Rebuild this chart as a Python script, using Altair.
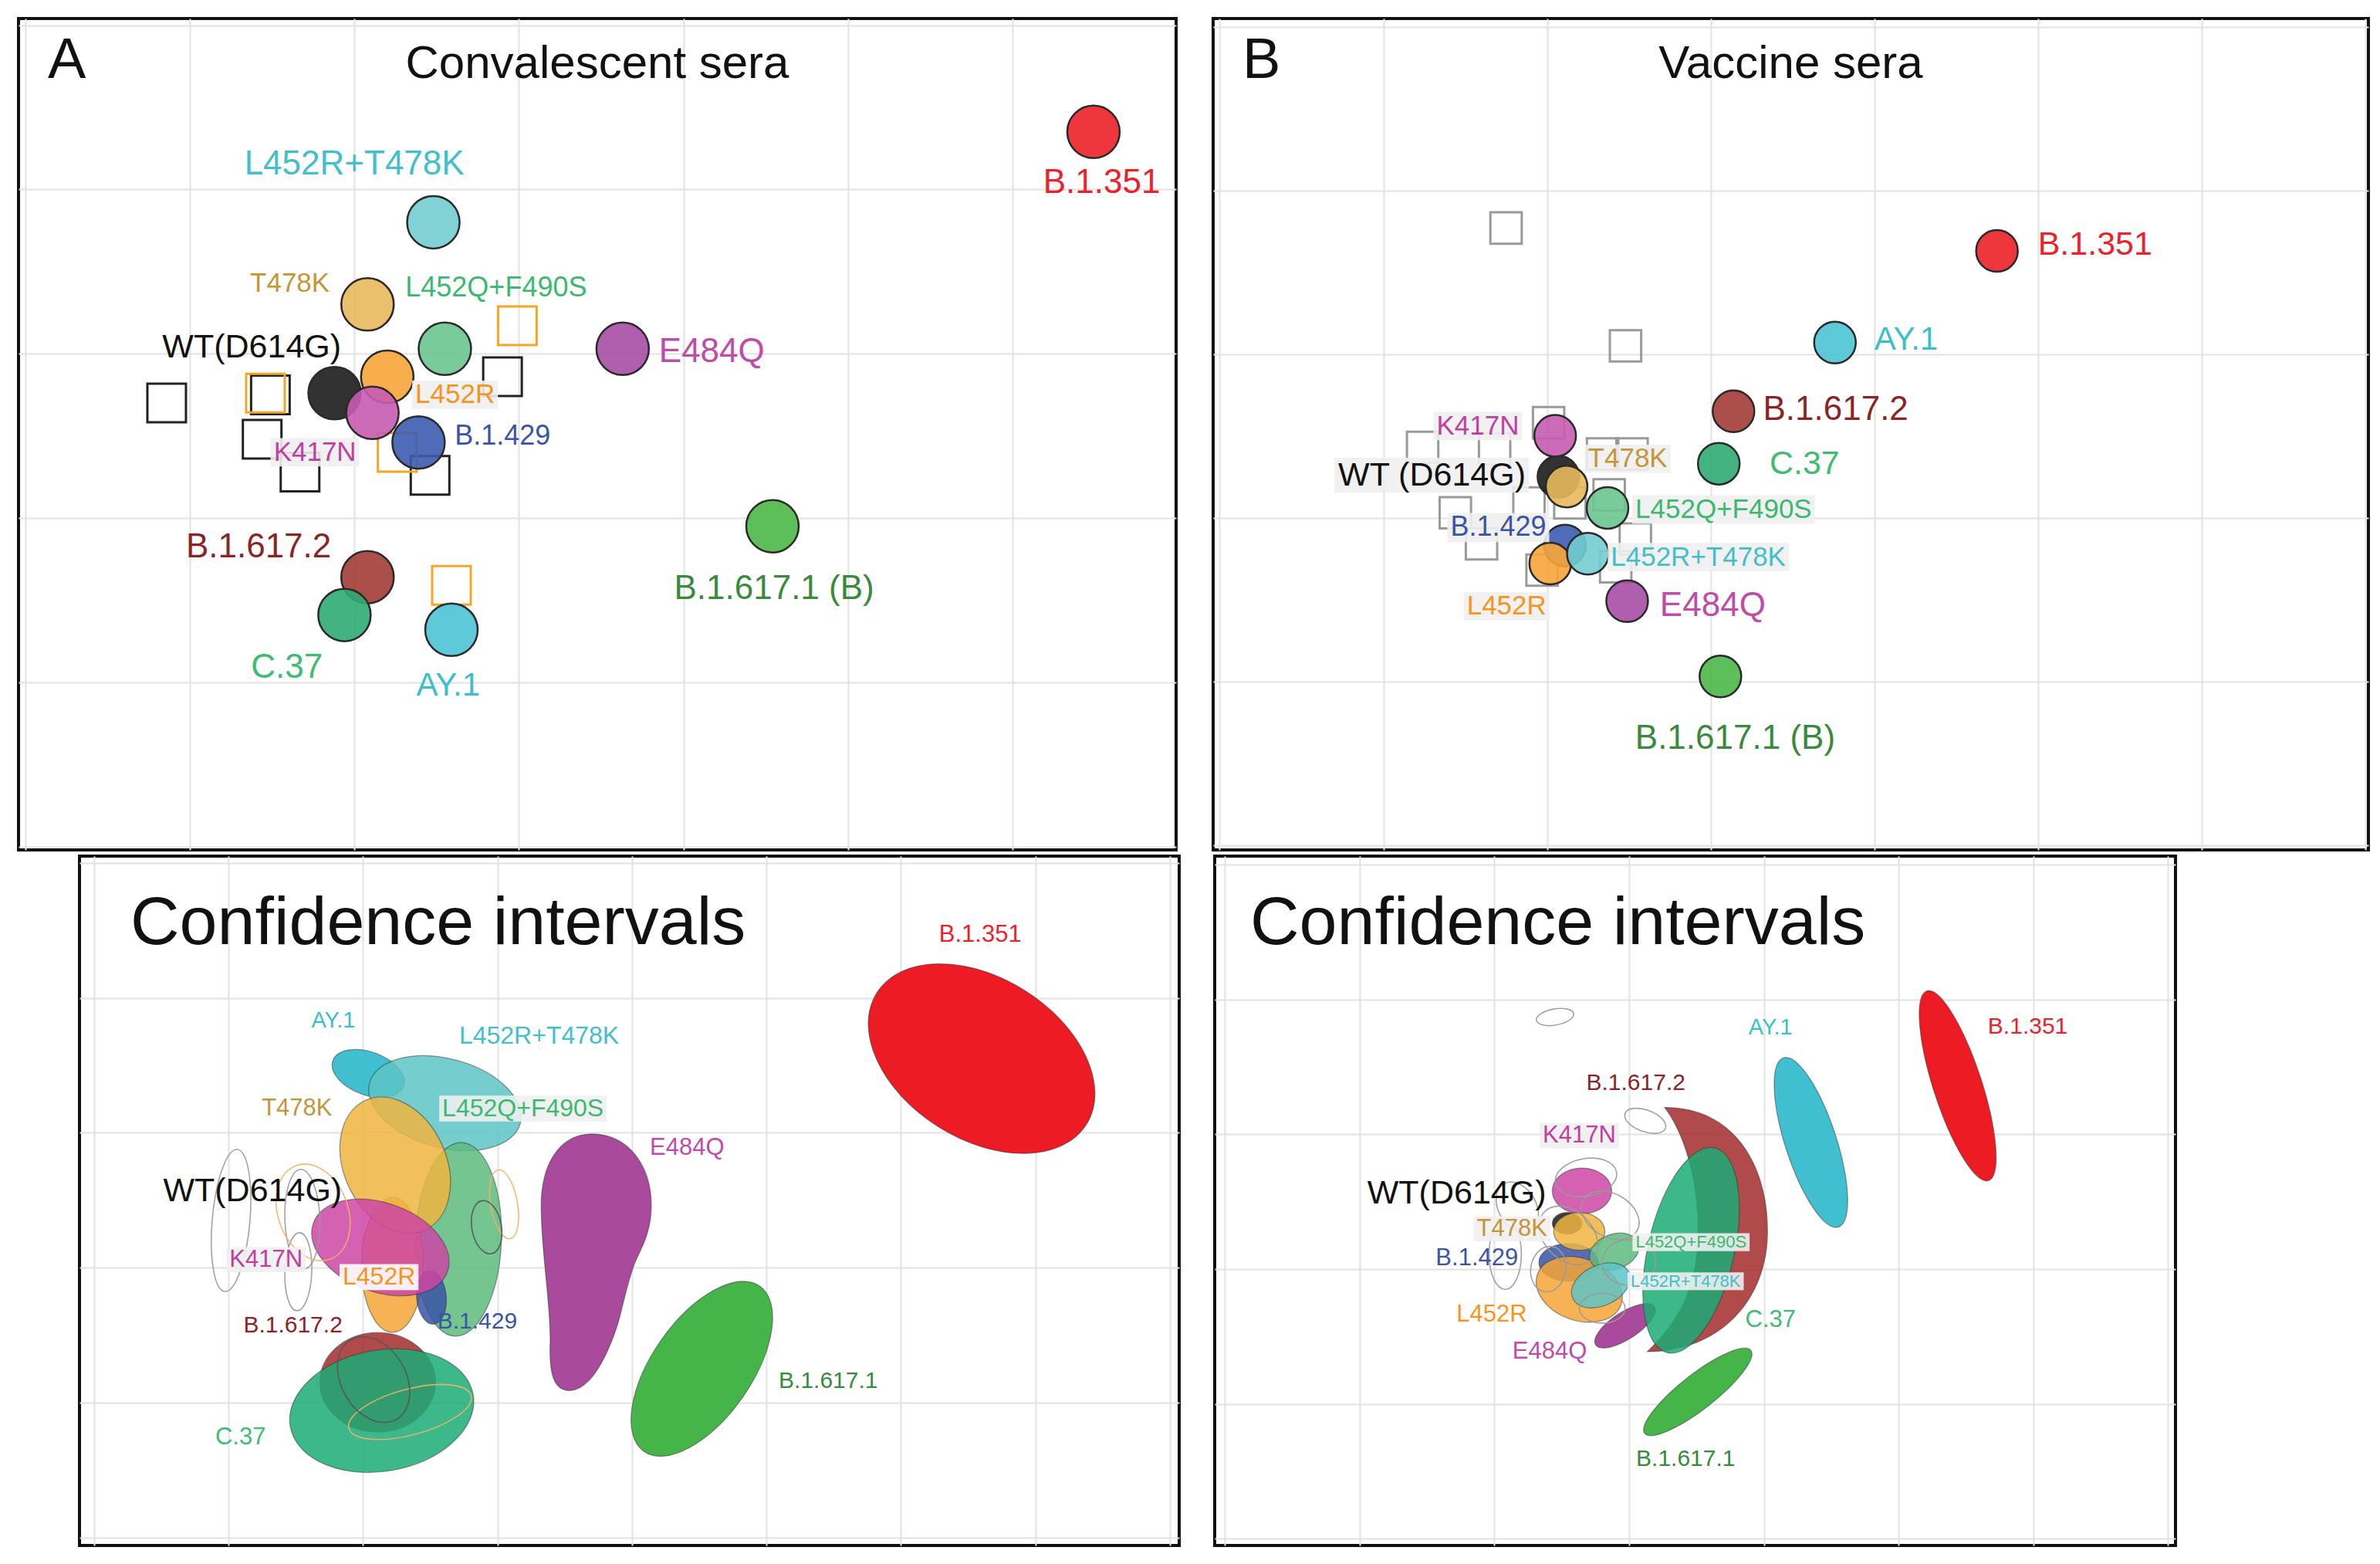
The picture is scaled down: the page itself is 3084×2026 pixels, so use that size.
import altair as alt
import pandas as pd

FONT = "Liberation Sans"

# ============================ DATA ============================
# ---- Panel A: convalescent sera antigenic map (grid units) ----
conv_ag = ["B.1.617.2", "C.37", "AY.1", "B.1.617.1", "E484Q", "L452R+T478K",
           "T478K", "L452Q+F490S", "WT", "L452R", "K417N", "B.1.429", "B.1.351"]
conv_ag_x = [2.08, 1.94, 2.59, 4.54, 3.63, 2.48, 2.08, 2.55, 1.88, 2.20, 2.11, 2.39, 6.49]
conv_ag_y = [1.64, 1.41, 1.32, 1.95, 3.03, 3.80, 3.30, 3.03, 2.76, 2.86, 2.64, 2.46, 4.35]

conv_sr_x = [0.86, 1.49, 1.44, 1.67, 2.46, 2.90, 1.46, 2.26, 2.99, 2.59]
conv_sr_y = [2.70, 2.75, 2.48, 2.28, 2.26, 2.86, 2.76, 2.40, 3.17, 1.59]
conv_sr_grp = ["a", "a", "a", "a", "a", "a", "b", "b", "b", "b"]

conv_lab = ["B.1.351", "L452R+T478K", "B.1.617.1 (B)", "C.37", "AY.1", "T478K",
            "WT(D614G)", "B.1.617.2", "L452Q+F490S", "E484Q", "L452R", "B.1.429", "K417N"]
conv_lab_key = ["B.1.351", "L452R+T478K", "B.1.617.1", "C.37", "AY.1", "T478K",
                "WT", "B.1.617.2", "L452Q+F490S", "E484Q", "L452R", "B.1.429", "K417N"]
conv_lab_x = [6.54, 2.00, 4.55, 1.59, 2.57, 1.85, 1.92, 1.86, 2.31, 3.85, 2.37, 2.61, 1.51]
conv_lab_y = [4.04, 4.15, 1.57, 1.09, 0.98, 3.43, 3.04, 1.82, 3.40, 3.01, 2.75, 2.50, 2.40]
conv_lab_al = ["center", "center", "center", "center", "center", "right",
               "right", "right", "left", "left", "left", "left", "left"]
conv_lab_fs = [44, 44, 44, 44, 42, 35, 43, 44, 36, 44, 35, 36, 35]
conv_lab_box = [0, 0, 0, 0, 0, 0, 0, 0, 0, 0, 1, 0, 1]

# ---- Panel B: vaccine sera antigenic map ----
vacc_ag = ["B.1.617.1", "E484Q", "B.1.429", "L452R", "L452R+T478K", "L452Q+F490S",
           "WT", "T478K", "K417N", "C.37", "B.1.617.2", "AY.1", "B.1.351"]
vacc_ag_x = [3.06, 2.49, 2.11, 2.02, 2.25, 2.37, 2.07, 2.12, 2.05, 3.05, 3.14, 3.76, 4.75]
vacc_ag_y = [1.03, 1.49, 1.83, 1.72, 1.78, 2.06, 2.25, 2.19, 2.50, 2.33, 2.65, 3.07, 3.63]

vacc_sr_x = [1.75, 2.48, 1.24, 1.44, 1.60, 2.01, 2.34, 2.52, 2.54, 1.97, 2.42, 1.89, 2.14, 1.68, 2.38]
vacc_sr_y = [3.77, 3.05, 2.43, 2.03, 1.84, 2.58, 2.39, 2.39, 1.87, 1.68, 1.70, 2.09, 2.09, 2.42, 2.14]

vacc_lab = ["B.1.351", "AY.1", "B.1.617.2", "C.37", "T478K", "L452Q+F490S", "B.1.429",
            "L452R+T478K", "L452R", "E484Q", "K417N", "WT (D614G)", "B.1.617.1 (B)"]
vacc_lab_key = ["B.1.351", "AY.1", "B.1.617.2", "C.37", "T478K", "L452Q+F490S", "B.1.429",
                "L452R+T478K", "L452R", "E484Q", "K417N", "WT", "B.1.617.1"]
vacc_lab_x = [5.00, 4.00, 3.32, 3.36, 2.25, 2.54, 1.41, 2.39, 1.51, 2.69, 1.83, 1.87, 3.15]
vacc_lab_y = [3.67, 3.09, 2.66, 2.33, 2.36, 2.05, 1.94, 1.76, 1.46, 1.46, 2.56, 2.26, 0.65]
vacc_lab_al = ["left"] * 10 + ["right", "right", "center"]
vacc_lab_fs = [43, 42, 44, 43, 35, 35, 36, 35, 35, 44, 35, 43, 44]
vacc_lab_box = [0, 0, 0, 0, 1, 1, 1, 1, 1, 0, 1, 1, 0]

# ---- Confidence regions, convalescent (centre, semi-axes in grid units, tilt deg) ----
ci_a_key = ["B.1.617.2", "C.37", "AY.1", "L452R+T478K", "L452Q+F490S", "L452R", "B.1.429",
            "T478K", "K417N", "E484Q", "B.1.617.1", "B.1.351"]
ci_a_shape = ["ellipse"] * 9 + ["pear", "ellipse", "ellipse"]
ci_a_x = [2.11, 2.14, 2.04, 2.61, 2.71, 2.22, 2.51, 2.24, 2.13, 3.73, 4.52, 6.60]
ci_a_y = [1.15, 0.94, 3.44, 3.22, 2.21, 2.02, 1.78, 2.76, 2.15, 2.04, 1.25, 3.55]
ci_a_ra = [0.43, 0.69, 0.28, 0.58, 0.72, 0.50, 0.20, 0.53, 0.53, 0.963, 0.75, 0.92]
ci_a_rb = [0.37, 0.45, 0.16, 0.33, 0.32, 0.23, 0.11, 0.38, 0.33, 0.963, 0.37, 0.60]
ci_a_ang = [0, 170, 20, 15, 92, 90, 85, 65, 20, 0, 125, 32]

# serum confidence outlines (convalescent)
ci_a_sr_x = [1.02, 1.55, 1.52, 1.63, 3.05, 2.92, 2.35, 2.08]
ci_a_sr_y = [2.35, 2.36, 1.97, 2.41, 2.47, 2.30, 0.93, 1.17]
ci_a_sr_ra = [0.53, 0.37, 0.29, 0.37, 0.26, 0.20, 0.47, 0.34]
ci_a_sr_rb = [0.14, 0.13, 0.10, 0.26, 0.10, 0.11, 0.17, 0.24]
ci_a_sr_ang = [95, 88, 92, 70, 80, 80, 165, 60]
ci_a_sr_grp = ["g", "g", "g", "o", "o", "d", "o", "d"]

ci_a_lab = ["B.1.351", "AY.1", "L452R+T478K", "T478K", "L452Q+F490S", "E484Q", "WT(D614G)",
            "K417N", "L452R", "B.1.617.2", "B.1.429", "B.1.617.1", "C.37"]
ci_a_lab_key = ["B.1.351", "AY.1", "L452R+T478K", "T478K", "L452Q+F490S", "E484Q", "WT",
                "K417N", "L452R", "B.1.617.2", "B.1.429", "B.1.617.1", "C.37"]
ci_a_lab_x = [6.59, 1.78, 3.31, 1.51, 3.19, 4.41, 1.18, 1.28, 2.12, 1.48, 2.85, 5.46, 1.09]
ci_a_lab_y = [4.47, 3.83, 3.72, 3.18, 3.18, 2.89, 2.57, 2.06, 1.93, 1.57, 1.60, 1.16, 0.74]
ci_a_lab_fs = [31, 29, 32, 31, 32, 31, 43, 31, 32, 30, 30, 30, 31]
ci_a_lab_box = [0, 0, 0, 0, 1, 0, 0, 1, 2, 0, 0, 0, 0]

# ---- Confidence regions, vaccine ----
ci_b_key = ["B.1.617.2", "E484Q", "C.37", "WT", "B.1.429", "L452R", "K417N", "T478K",
            "L452Q+F490S", "L452R+T478K", "B.1.617.1", "AY.1", "B.1.351"]
ci_b_shape = ["crescent"] + ["ellipse"] * 12
ci_b_x = [3.54, 2.97, 3.46, 2.54, 2.55, 2.63, 2.65, 2.63, 2.89, 2.79, 3.51, 4.35, 5.44]
ci_b_y = [2.28, 1.58, 2.14, 2.34, 2.05, 1.85, 2.58, 2.28, 2.13, 1.88, 1.09, 2.94, 3.36]
ci_b_ra = [0.92, 0.26, 0.78, 0.11, 0.22, 0.33, 0.22, 0.19, 0.19, 0.23, 0.50, 0.66, 0.74]
ci_b_rb = [0.92, 0.10, 0.32, 0.08, 0.14, 0.23, 0.17, 0.14, 0.13, 0.15, 0.13, 0.19, 0.18]
ci_b_ang = [0, 147, 103, 0, 0, 20, 0, 0, 160, 155, 142, 72, 72]

ci_b_sr_x = [2.45, 3.12, 2.17, 2.40, 2.86, 3.00, 2.68, 2.08, 2.80, 2.55]
ci_b_sr_y = [3.87, 3.10, 2.46, 2.00, 2.40, 2.05, 2.68, 2.11, 1.71, 2.25]
ci_b_sr_ra = [0.14, 0.16, 0.20, 0.17, 0.23, 0.20, 0.23, 0.26, 0.17, 0.25]
ci_b_sr_rb = [0.06, 0.08, 0.14, 0.13, 0.16, 0.17, 0.14, 0.12, 0.11, 0.18]
ci_b_sr_ang = [170, 20, 60, 100, 30, 0, 170, 90, 0, 45]

ci_b_lab = ["B.1.351", "AY.1", "B.1.617.2", "K417N", "WT(D614G)", "T478K", "L452Q+F490S",
            "B.1.429", "L452R+T478K", "L452R", "C.37", "E484Q", "B.1.617.1"]
ci_b_lab_key = ["B.1.351", "AY.1", "B.1.617.2", "K417N", "WT", "T478K", "L452Q+F490S",
                "B.1.429", "L452R+T478K", "L452R", "C.37", "E484Q", "B.1.617.1"]
ci_b_lab_x = [5.96, 4.05, 3.05, 2.63, 1.72, 2.13, 3.46, 1.87, 3.42, 1.98, 4.05, 2.41, 3.42]
ci_b_lab_y = [3.80, 3.79, 3.38, 2.99, 2.56, 2.30, 2.20, 2.08, 1.91, 1.66, 1.62, 1.39, 0.59]
ci_b_lab_fs = [30, 29, 30, 31, 43, 31, 22, 31, 22, 31, 31, 31, 30]
ci_b_lab_box = [0, 0, 0, 1, 0, 1, 1, 0, 1, 0, 0, 0, 0]

# ============================ STYLE ============================
PT_FILL = {"WT": "#1c1c1c", "L452R": "#f8a53a", "K417N": "#c65cb0", "B.1.429": "#3d5cb0",
           "T478K": "#e8b95c", "L452Q+F490S": "#6cc58f", "L452R+T478K": "#72cdcf",
           "E484Q": "#a64ea5", "B.1.617.1": "#4cb748", "B.1.617.2": "#a33b35",
           "C.37": "#2fab74", "AY.1": "#4cc4d5", "B.1.351": "#ec2028"}
REG_FILL = {"WT": "#1c1c1c", "L452R": "#f6a536", "K417N": "#cc45a5", "B.1.429": "#3953a4",
            "T478K": "#eeb540", "L452Q+F490S": "#5dbb7e", "L452R+T478K": "#5ec4c6",
            "E484Q": "#aa4a9d", "B.1.617.1": "#45b549", "B.1.617.2": "#a32c2c",
            "C.37": "#1bab76", "AY.1": "#3fbfd0", "B.1.351": "#ed1c24"}
TXT = {"WT": "#111111", "L452R": "#f7941e", "K417N": "#c040a0", "B.1.429": "#3b55a5",
       "T478K": "#c5953a", "L452Q+F490S": "#3cb96e", "L452R+T478K": "#42bfcb",
       "E484Q": "#c04ba8", "B.1.617.1": "#3a8a3d", "B.1.617.2": "#8b2525",
       "C.37": "#3dbd70", "AY.1": "#3bbfcb", "B.1.351": "#e8232b"}
OUTLINE = {"g": "#9a9a9a", "o": "#f2b26a", "d": "#555555"}
BOXFILL = {1: "#f0f0f0", 2: "#ffffff"}

CRESCENT = ("M -0.30 -1 C 0.25 -1 0.53 -0.55 0.53 0 C 0.53 0.55 0.15 0.97 -0.44 0.97 "
            "C -0.15 0.7 -0.03 0.4 -0.03 0 C -0.03 -0.45 -0.15 -0.8 -0.30 -1 Z")
PEAR = ("M -0.03 -0.99 C 0.25 -0.99 0.43 -0.75 0.43 -0.44 C 0.43 -0.2 0.33 -0.08 0.29 0.04 "
        "C 0.22 0.25 0.2 0.4 0.16 0.51 C 0.08 0.75 -0.05 0.99 -0.2 0.99 "
        "C -0.33 0.99 -0.36 0.85 -0.35 0.6 C -0.35 0.3 -0.42 -0.1 -0.42 -0.44 "
        "C -0.42 -0.75 -0.28 -0.99 -0.03 -0.99 Z")

CW = {'.': .278, '+': .584, '(': .333, ')': .333, ' ': .278, 'W': .944, 'T': .611,
      'D': .722, 'G': .778, 'K': .667, 'N': .722, 'L': .556, 'R': .722, 'Q': .778,
      'F': .611, 'S': .667, 'B': .667, 'A': .667, 'Y': .667, 'C': .722, 'E': .667}


def text_w(s, fs):
    return sum(CW.get(c, .556) for c in s) * fs


def ellipse_path(r):
    k = 0.5523
    return (f"M 1 0 C 1 {k*r:.4f} {k:.4f} {r:.4f} 0 {r:.4f} "
            f"C {-k:.4f} {r:.4f} -1 {k*r:.4f} -1 0 "
            f"C -1 {-k*r:.4f} {-k:.4f} {-r:.4f} 0 {-r:.4f} "
            f"C {k:.4f} {-r:.4f} 1 {-k*r:.4f} 1 0 Z")


def rect_path(r):
    return f"M -1 {-r:.4f} L 1 {-r:.4f} L 1 {r:.4f} L -1 {r:.4f} Z"


def axes(dx, dy, xv, yv):
    common = dict(grid=True, gridColor="#e2e2e2", gridWidth=2, labels=False,
                  ticks=False, domain=False, title="")
    X = alt.X("x:Q", scale=alt.Scale(domain=dx, nice=False, zero=False),
              axis=alt.Axis(values=xv, **common))
    Y = alt.Y("y:Q", scale=alt.Scale(domain=dy, nice=False, zero=False),
              axis=alt.Axis(values=yv, **common))
    return X, Y


def label_layers(labs, keys, lx, ly, lal, lfs, lbox, X, Y, ppu):
    df = pd.DataFrame({"x": lx, "y": ly, "label": labs, "tc": [TXT[k] for k in keys],
                       "align": lal, "fs": lfs})
    # light background boxes behind some labels
    bx, by, bp, bs, bf = [], [], [], [], []
    for s, x, y, al, fs, b in zip(labs, lx, ly, lal, lfs, lbox):
        if not b:
            continue
        w = text_w(s, fs) + 8
        h = fs * 1.05
        cx = x + {"left": w / 2 - 4, "center": 0, "right": -(w / 2 - 4)}[al] / ppu
        bx.append(cx)
        by.append(y)
        bp.append(rect_path(h / w))
        bs.append(w * w)
        bf.append(BOXFILL[b])
    out = []
    if bx:
        bdf = pd.DataFrame({"x": bx, "y": by, "path": bp, "sz": bs, "f": bf})
        out.append(alt.Chart(bdf).mark_point(filled=True, opacity=0.9, strokeWidth=0).encode(
            x=X, y=Y, shape=alt.Shape("path:N", scale=None), size=alt.Size("sz:Q", scale=None),
            fill=alt.Fill("f:N", scale=None)))
    for al in ["left", "center", "right"]:
        sub = df[df["align"] == al]
        if len(sub):
            out.append(alt.Chart(sub).mark_text(align=al, baseline="middle", font=FONT).encode(
                x=X, y=Y, text="label:N",
                color=alt.Color("tc:N", scale=None),
                size=alt.Size("fs:Q", scale=None)))
    return out


def note(s, px, py, fs, align="left"):
    return alt.Chart(pd.DataFrame({"t": [s]})).mark_text(
        align=align, baseline="alphabetic", font=FONT, fontSize=fs, color="#111111"
    ).encode(x=alt.value(px), y=alt.value(py), text="t:N")


FRAME = alt.ViewBackground(stroke="#111111", strokeWidth=4)


def top_panel(ag, agx, agy, srx, sry, srcol, labs, lkeys, lx, ly, lal, lfs, lbox,
              dx, dy, w, h, dot, sq, letter, title):
    X, Y = axes(dx, dy, list(range(0, 8)), list(range(0, 6)))
    ppu = w / (dx[1] - dx[0])
    ag_df = pd.DataFrame({"x": agx, "y": agy, "fill": [PT_FILL[k] for k in ag],
                          "i": list(range(len(ag)))})
    sr_df = pd.DataFrame({"x": srx, "y": sry, "col": srcol})
    squares = alt.Chart(sr_df).mark_point(shape="square", filled=False, size=sq,
                                          strokeWidth=3, opacity=1).encode(
        x=X, y=Y, stroke=alt.Stroke("col:N", scale=None))
    dots = alt.Chart(ag_df).mark_circle(size=dot, stroke="#2a2a2a", strokeWidth=2.5,
                                        opacity=1, fillOpacity=0.9).encode(
        x=X, y=Y, color=alt.Color("fill:N", scale=None), order=alt.Order("i:Q"))
    layers = [squares, dots] + label_layers(labs, lkeys, lx, ly, lal, lfs, lbox, X, Y, ppu) + [
        note(letter, 38, 77, 74), note(title, w / 2, 77, 60, "center")]
    return alt.layer(*layers).properties(width=w, height=h, view=FRAME)


def bottom_panel(keys, shapes, x, y, ra, rb, ang, ox, oy, ora, orb, oang, ocol,
                 labs, lkeys, lx, ly, lfs, lbox, dx, dy, w, h, alpha, title_x):
    X, Y = axes(dx, dy, list(range(0, 9)), list(range(0, 6)))
    ppu = w / (dx[1] - dx[0])
    paths = []
    for s, a, b in zip(shapes, ra, rb):
        paths.append({"crescent": CRESCENT, "pear": PEAR}.get(s) or ellipse_path(b / a))
    reg = pd.DataFrame({
        "x": x, "y": y, "path": paths,
        "sz": [(2 * a * ppu) ** 2 for a in ra], "ang": ang,
        "fill": [REG_FILL[k] for k in keys],
        "op": [1.0 if k in ("B.1.351", "E484Q", "B.1.617.1", "AY.1") else alpha for k in keys],
        "i": list(range(len(keys)))})
    outl = pd.DataFrame({
        "x": ox, "y": oy, "path": [ellipse_path(b / a) for a, b in zip(ora, orb)],
        "sz": [(2 * a * ppu) ** 2 for a in ora], "ang": oang,
        "col": [OUTLINE[c] for c in ocol]})
    fills = alt.Chart(reg).mark_point(filled=True, opacity=1, stroke="#333333",
                                      strokeWidth=1.3, strokeOpacity=0.5).encode(
        x=X, y=Y,
        shape=alt.Shape("path:N", scale=None),
        size=alt.Size("sz:Q", scale=None),
        angle=alt.Angle("ang:Q", scale=None),
        fill=alt.Fill("fill:N", scale=None),
        fillOpacity=alt.FillOpacity("op:Q", scale=None),
        order=alt.Order("i:Q"))
    lines = alt.Chart(outl).mark_point(filled=False, strokeWidth=1.6, opacity=0.9).encode(
        x=X, y=Y,
        shape=alt.Shape("path:N", scale=None),
        size=alt.Size("sz:Q", scale=None),
        angle=alt.Angle("ang:Q", scale=None),
        stroke=alt.Stroke("col:N", scale=None))
    layers = [fills, lines] + label_layers(labs, lkeys, lx, ly, ["center"] * len(labs), lfs,
                                           lbox, X, Y, ppu) + [
        note("Confidence intervals", title_x, 114, 88)]
    return alt.layer(*layers).properties(width=w, height=h, view=FRAME)


# ============================ PANELS ============================
pA = top_panel(conv_ag, conv_ag_x, conv_ag_y, conv_sr_x, conv_sr_y,
               ["#222222" if g == "a" else "#f5a623" for g in conv_sr_grp],
               conv_lab, conv_lab_key, conv_lab_x, conv_lab_y, conv_lab_al, conv_lab_fs,
               conv_lab_box, [-0.04, 6.992], [-0.02, 5.04], 1500, 1077, 4624, 2500,
               "A", "Convalescent sera")

pB = top_panel(vacc_ag, vacc_ag_x, vacc_ag_y, vacc_sr_x, vacc_sr_y,
               ["#9a9a9a"] * len(vacc_sr_x),
               vacc_lab, vacc_lab_key, vacc_lab_x, vacc_lab_y, vacc_lab_al, vacc_lab_fs,
               vacc_lab_box, [-0.04, 7.02], [-0.03, 5.05], 1497, 1077, 2916, 1650,
               "B", "Vaccine sera")

pC = bottom_panel(ci_a_key, ci_a_shape, ci_a_x, ci_a_y, ci_a_ra, ci_a_rb, ci_a_ang,
                  ci_a_sr_x, ci_a_sr_y, ci_a_sr_ra, ci_a_sr_rb, ci_a_sr_ang, ci_a_sr_grp,
                  ci_a_lab, ci_a_lab_key, ci_a_lab_x, ci_a_lab_y, ci_a_lab_fs, ci_a_lab_box,
                  [-0.107, 8.069], [-0.06, 5.052], 1425, 893, 0.85, 66)

pD = bottom_panel(ci_b_key, ci_b_shape, ci_b_x, ci_b_y, ci_b_ra, ci_b_rb, ci_b_ang,
                  ci_b_sr_x, ci_b_sr_y, ci_b_sr_ra, ci_b_sr_rb, ci_b_sr_ang,
                  ["g"] * len(ci_b_sr_x), ci_b_lab, ci_b_lab_key, ci_b_lab_x,
                  ci_b_lab_y, ci_b_lab_fs, ci_b_lab_box, [-0.077, 7.057], [-0.049, 5.063],
                  1245, 893, 0.85, 46)

spacer = alt.Chart(pd.DataFrame({"v": [0]})).mark_point(opacity=0).encode(
    x=alt.value(0), y=alt.value(0)).properties(width=34, height=893)

top = alt.hconcat(pA, pB, spacing=44)
bottom = alt.hconcat(spacer, pC, pD, spacing=42)
chart = alt.vconcat(top, bottom, spacing=2).properties(
    padding={"left": 12, "top": 14, "right": 4, "bottom": 4}
).configure(background="white").configure_view(stroke="transparent")

chart.save("out.html", embed_options={"renderer": "svg", "actions": False})
